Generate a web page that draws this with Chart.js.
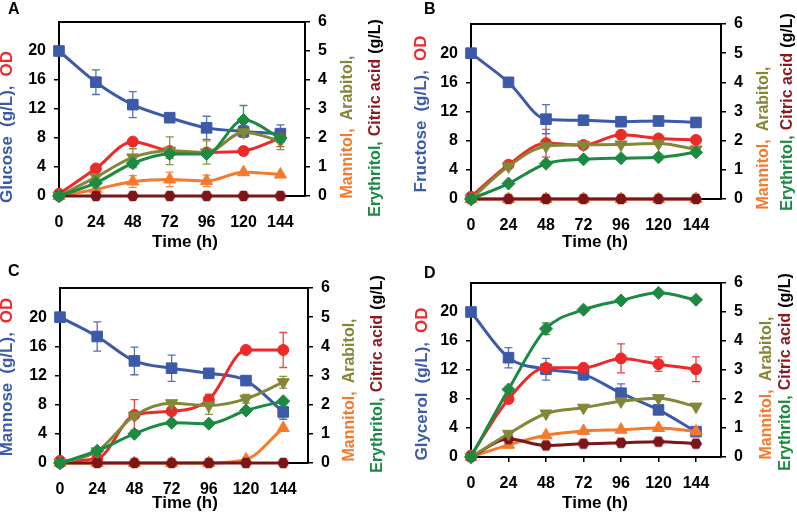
<!DOCTYPE html>
<html>
<head>
<meta charset="utf-8">
<script src="https://cdn.jsdelivr.net/npm/chart.js@4.4.0/dist/chart.umd.min.js"></script>
<style>
  body { margin: 0; background: #fff; width: 797px; height: 521px; position: relative; overflow: hidden; }
  canvas { position: absolute; }
</style>
</head>
<body>
<canvas id="chartA" width="398" height="260" style="left:0;top:0"></canvas>
<canvas id="chartB" width="398" height="260" style="left:398px;top:0"></canvas>
<canvas id="chartC" width="398" height="260" style="left:0;top:260px"></canvas>
<canvas id="chartD" width="398" height="260" style="left:398px;top:260px"></canvas>
<script>
// sampling times (h) and axis ticks
const hours = [0, 24, 48, 72, 96, 120, 144];
const leftTicks = [0, 4, 8, 12, 16, 20];
const rightTicks = [0, 1, 2, 3, 4, 5, 6];
const panelLetters = ['A', 'B', 'C', 'D'];
const substrateNames = ['Glucose', 'Fructose', 'Mannose', 'Glycerol'];

// left axis: substrate (g/L) and OD, one row per panel A-D
const substrate = [
    [20, 15.7, 12.6, 10.8, 9.4, 8.9, 8.6],
    [20, 16.0, 10.95, 10.8, 10.6, 10.7, 10.5],
    [20, 17.35, 14.0, 13.0, 12.3, 11.3, 7.0],
    [20, 13.7, 12.1, 11.4, 8.8, 6.5, 3.5]
];
const substrateErr = [
    [0, 1.7, 1.8, 0.3, 1.6, 0.8, 1.2],
    [0, 0.6, 2.0, 0.3, 0.6, 0.6, 0.6],
    [0, 2.0, 1.9, 1.8, 0.5, 0.3, 1.0],
    [0, 1.4, 1.5, 0.8, 1.3, 0.3, 0.3]
];
const od = [
    [0.3, 3.8, 7.5, 6.2, 6.0, 6.2, 8.0],
    [0.3, 4.7, 7.65, 7.4, 8.8, 8.3, 8.1],
    [0.3, 0.6, 6.6, 7.1, 8.7, 15.5, 15.5],
    [0.2, 8.0, 12.3, 12.3, 13.6, 12.8, 12.1]
];
const odErr = [
    [0, 0.3, 0.4, 0.3, 0.3, 0.5, 1.2],
    [0, 0.3, 1.9, 0.3, 0.5, 0.3, 0.3],
    [0, 0.3, 2.1, 0.5, 0.7, 0.3, 2.4],
    [0, 0.3, 0.5, 0.3, 2.0, 1.0, 1.7]
];

// right axis: products (g/L)
const mannitol = [
    [0, 0.23, 0.5, 0.57, 0.52, 0.82, 0.74],
    [0, 0, 0, 0, 0, 0, 0],
    [0, 0, 0, 0, 0, 0.12, 1.2],
    [0, 0.42, 0.75, 0.9, 0.94, 1.0, 0.88]
];
const mannitolErr = [
    [0, 0.1, 0.2, 0.25, 0.2, 0.1, 0.1],
    [0, 0, 0, 0, 0, 0, 0],
    [0, 0, 0, 0, 0, 0.05, 0.1],
    [0, 0.05, 0.05, 0.05, 0.05, 0.05, 0.05]
];
const arabitol = [
    [0, 0.65, 1.33, 1.56, 1.5, 2.2, 1.9],
    [0, 1.12, 1.81, 1.86, 1.87, 1.9, 1.7],
    [0, 0.4, 1.62, 2.05, 1.97, 2.2, 2.77],
    [0, 0.8, 1.5, 1.7, 1.92, 2.03, 1.74]
];
const arabitolErr = [
    [0, 0.1, 0.3, 0.48, 0.4, 0.1, 0.3],
    [0, 0.05, 0.05, 0.05, 0.05, 0.05, 0.05],
    [0, 0.05, 0.1, 0.1, 0.3, 0.15, 0.2],
    [0, 0.05, 0.05, 0.05, 0.05, 0.05, 0.05]
];
const erythritol = [
    [0, 0.45, 1.13, 1.45, 1.45, 2.62, 2.0],
    [0, 0.53, 1.21, 1.36, 1.4, 1.43, 1.6],
    [0, 0.42, 1.0, 1.38, 1.35, 1.8, 2.12],
    [0, 2.33, 4.42, 5.08, 5.4, 5.66, 5.42]
];
const erythritolErr = [
    [0, 0.1, 0.15, 0.15, 0.1, 0.5, 0.15],
    [0, 0.05, 0.05, 0.05, 0.05, 0.05, 0.05],
    [0, 0.05, 0.05, 0.05, 0.05, 0.05, 0.05],
    [0, 0.1, 0.2, 0.1, 0.05, 0.05, 0.05]
];
const citricAcid = [
    [0, 0, 0, 0, 0, 0, 0],
    [0, 0, 0, 0, 0, 0, 0],
    [0, 0, 0, 0, 0, 0, 0],
    [0, 0.62, 0.4, 0.46, 0.49, 0.53, 0.46]
];

const BLUE = '#3c5aa8', RED = '#ec2a2a', OLIVE = '#838737', GREEN = '#1d8a43',
      ORANGE = '#f57a2c', DARKRED = '#7b1518';
const FONT = "'Liberation Sans', Arial, sans-serif";

function hexagon(r, color) {
    const c = document.createElement('canvas');
    c.width = c.height = 2 * r + 2;
    const g = c.getContext('2d');
    g.fillStyle = color;
    g.beginPath();
    for (let i = 0; i < 6; i++) {
        const a = i * Math.PI / 3;
        g.lineTo(r + 1 + r * Math.cos(a), r + 1 + r * Math.sin(a));
    }
    g.closePath();
    g.fill();
    return c;
}

// first entry is drawn on top
const seriesDefs = [
    { values: erythritol, errors: erythritolErr, axis: 'y2', color: GREEN, style: 'rectRot', radius: 6.5, errColor: '#3a9a5a' },
    { values: arabitol, errors: arabitolErr, axis: 'y2', color: OLIVE, style: 'triangle', rotation: 180, radius: 7, errColor: '#8f9340' },
    { values: citricAcid, errors: null, axis: 'y2', color: DARKRED, style: hexagon(6, DARKRED), radius: 6 },
    { values: mannitol, errors: mannitolErr, axis: 'y2', color: ORANGE, style: 'triangle', radius: 7, errColor: '#f58a45' },
    { values: od, errors: odErr, axis: 'y', color: RED, style: 'circle', radius: 5.5, errColor: '#ee4444' },
    { values: substrate, errors: substrateErr, axis: 'y', color: BLUE, style: 'rect', radius: 7.5, errColor: '#5570b8' }
];

// drawing box of each panel inside its canvas
const panelGeom = [
    { left: 59, right: 305, top: 22, bottom: 196,
      lt: [7, 127], r1: [348, 127], r2: [376, 118], tx: [185, 242], letter: [8, 2] },
    { left: 73, right: 323, top: 24, bottom: 199,
      lt: [23, 114], r1: [366, 138], r2: [390, 112], tx: [197, 242], letter: [26, 2] },
    { left: 60, right: 308, top: 28, bottom: 203,
      lt: [7, 117], r1: [350, 130], r2: [378, 114], tx: [185, 243], letter: [8, 4] },
    { left: 73, right: 323, top: 23, bottom: 197,
      lt: [24, 124], r1: [369, 128], r2: [388, 112], tx: [197, 243], letter: [26, 6] }
];

function drawParts(ctx, x, y, parts, size, gap) {
    ctx.save();
    ctx.translate(x, y);
    ctx.rotate(-Math.PI / 2);
    ctx.font = 'bold ' + size + 'px ' + FONT;
    ctx.textBaseline = 'middle';
    ctx.textAlign = 'left';
    let total = 0;
    parts.forEach(p => { total += ctx.measureText(p[0]).width; });
    total += gap * (parts.length - 1);
    let pos = -total / 2;
    parts.forEach(p => {
        ctx.fillStyle = p[1];
        ctx.fillText(p[0], pos, 0);
        pos += ctx.measureText(p[0]).width + gap;
    });
    ctx.restore();
}

const errorBars = {
    id: 'errorBars',
    beforeDatasetsDraw(chart) {
        const ctx = chart.ctx;
        const x = chart.scales.x;
        chart.data.datasets.forEach(ds => {
            if (!ds.errors) return;
            const y = chart.scales[ds.yAxisID];
            ctx.save();
            ctx.strokeStyle = ds.errColor;
            ctx.lineWidth = 1.3;
            ds.data.forEach((pt, i) => {
                const e = ds.errors[i];
                if (!e || e < 0.12 * (y.max / 6)) return;
                const px = x.getPixelForValue(pt.x);
                const top = y.getPixelForValue(pt.y + e);
                const bot = y.getPixelForValue(Math.max(0, pt.y - e));
                ctx.beginPath();
                ctx.moveTo(px, top); ctx.lineTo(px, bot);
                ctx.moveTo(px - 4, top); ctx.lineTo(px + 4, top);
                ctx.moveTo(px - 4, bot); ctx.lineTo(px + 4, bot);
                ctx.stroke();
            });
            ctx.restore();
        });
    }
};

const panelText = {
    id: 'panelText',
    afterDraw(chart, args, opts) {
        const ctx = chart.ctx;
        const g = opts.geom;
        const a = chart.chartArea;
        // top edge of the frame
        ctx.save();
        ctx.strokeStyle = '#000';
        ctx.lineWidth = 2;
        ctx.beginPath();
        ctx.moveTo(a.left - 1, a.top);
        ctx.lineTo(a.right + 1, a.top);
        ctx.stroke();
        ctx.restore();

        drawParts(ctx, g.lt[0], g.lt[1], [[opts.name, BLUE], ['(g/L),', BLUE], ['OD', RED]], 17, 9);
        drawParts(ctx, g.r1[0], g.r1[1], [['Mannitol,', ORANGE], ['Arabitol,', OLIVE]], 16, 8);
        drawParts(ctx, g.r2[0], g.r2[1], [['Erythritol,', GREEN], ['Citric acid', '#8b1a1f'], ['(g/L)', '#000']], 16, 5);

        ctx.save();
        ctx.fillStyle = '#000';
        ctx.font = 'bold 17px ' + FONT;
        ctx.textAlign = 'center';
        ctx.textBaseline = 'middle';
        ctx.fillText('Time (h)', g.tx[0], g.tx[1]);
        ctx.textAlign = 'left';
        ctx.textBaseline = 'top';
        ctx.font = 'bold 16px ' + FONT;
        ctx.fillText(opts.letter, g.letter[0], g.letter[1]);
        ctx.restore();
    }
};

function axisStyle(pad) {
    return {
        grid: { drawOnChartArea: false, drawTicks: true, tickLength: 5, color: '#000', lineWidth: 1.5 },
        border: { display: true, color: '#000', width: 2 },
        ticks: { color: '#000', padding: pad, font: { family: FONT, size: 16, weight: 'bold' } }
    };
}

function makePanel(id, p) {
    const g = panelGeom[p];
    const datasets = seriesDefs.map(s => ({
        data: hours.map((h, i) => ({ x: h, y: s.values[p][i] })),
        errors: s.errors ? s.errors[p] : null,
        errColor: s.errColor,
        yAxisID: s.axis,
        borderColor: s.color,
        backgroundColor: s.color,
        borderWidth: 3,
        pointStyle: s.style,
        pointRotation: s.rotation || 0,
        pointRadius: s.radius,
        pointBorderWidth: 1,
        cubicInterpolationMode: 'monotone',
        clip: false
    }));

    new Chart(document.getElementById(id), {
        type: 'line',
        data: { datasets: datasets },
        options: {
            responsive: false,
            animation: false,
            layout: { padding: { top: g.top, left: 0, right: 0, bottom: 0 } },
            plugins: {
                legend: { display: false },
                tooltip: { enabled: false },
                panelText: { geom: g, name: substrateNames[p], letter: panelLetters[p] }
            },
            scales: {
                x: Object.assign(axisStyle(12), {
                    type: 'linear', min: 0, max: 160,
                    afterBuildTicks: s => { s.ticks = hours.map(v => ({ value: v })); },
                    afterFit: s => { s.height = 260 - g.bottom; }
                }),
                y: Object.assign(axisStyle(8), {
                    position: 'left', min: 0, max: 24,
                    afterBuildTicks: s => { s.ticks = leftTicks.map(v => ({ value: v })); },
                    afterFit: s => { s.width = g.left; }
                }),
                y2: Object.assign(axisStyle(8), {
                    position: 'right', min: 0, max: 6,
                    afterBuildTicks: s => { s.ticks = rightTicks.map(v => ({ value: v })); },
                    afterFit: s => { s.width = 398 - g.right; }
                })
            }
        },
        plugins: [errorBars, panelText]
    });
}

makePanel('chartA', 0);
makePanel('chartB', 1);
makePanel('chartC', 2);
makePanel('chartD', 3);
</script>
</body>
</html>
